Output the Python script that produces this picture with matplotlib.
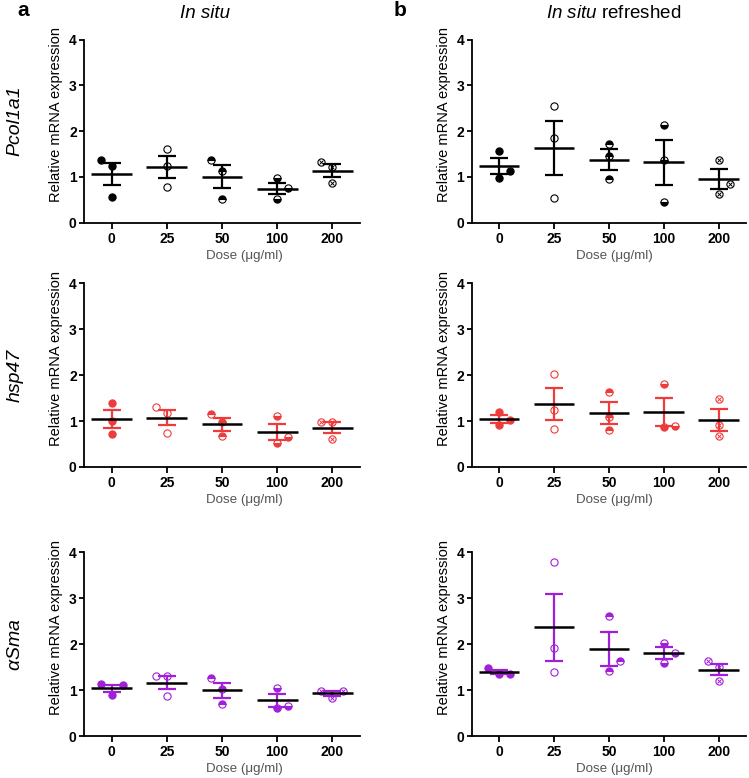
import numpy as np
import matplotlib
matplotlib.use("Agg")
import matplotlib.pyplot as plt

plt.rcParams['font.family'] = ['Liberation Sans', 'DejaVu Sans']
plt.rcParams['mathtext.fontset'] = 'custom'
plt.rcParams['mathtext.it'] = 'Liberation Sans:italic'
plt.rcParams['mathtext.rm'] = 'Liberation Sans'

doses = ['0', '25', '50', '100', '200']

# three replicates per dose
pcol_insitu = [[0.57, 1.24, 1.38], [0.77, 1.25, 1.62], [0.52, 1.13, 1.37], [0.52, 0.75, 0.97], [0.86, 1.22, 1.32]]
pcol_refresh = [[0.98, 1.14, 1.57], [0.53, 1.86, 2.54], [0.95, 1.46, 1.73], [0.45, 1.36, 2.14], [0.63, 0.85, 1.38]]
hsp_insitu = [[0.72, 1.00, 1.39], [0.75, 1.17, 1.30], [0.67, 0.97, 1.16], [0.53, 0.65, 1.12], [0.61, 0.97, 0.97]]
hsp_refresh = [[0.92, 1.02, 1.20], [0.82, 1.25, 2.03], [0.81, 1.08, 1.64], [0.88, 0.90, 1.80], [0.67, 0.92, 1.49]]
sma_insitu = [[0.89, 1.10, 1.13], [0.87, 1.31, 1.31], [0.70, 1.02, 1.26], [0.62, 0.66, 1.05], [0.83, 0.98, 0.98]]
sma_refresh = [[1.34, 1.36, 1.49], [1.39, 1.92, 3.78], [1.42, 1.64, 2.61], [1.58, 1.81, 2.02], [1.20, 1.51, 1.63]]

genes = ['Pcol1a1', 'hsp47', r'$\alpha$Sma']
colors = ['black', '#ee3b3b', '#a11fd8']
panels = [[pcol_insitu, pcol_refresh], [hsp_insitu, hsp_refresh], [sma_insitu, sma_refresh]]

W, H = 749, 778
fig = plt.figure(figsize=(W / 100, H / 100), dpi=100)

# axes boxes in pixels
col_x = [(84, 360), (471.7, 746)]
row_y = [(39.7, 222.7), (283.3, 467), (552.3, 736)]


def swarm(vals, gap=0.245):
    # simple column scatter: move a point sideways when it sits too close to another
    order = np.argsort(vals, kind='stable')
    off = np.zeros(len(vals))
    placed = []
    for i, k in enumerate(order):
        cands = [0, 1, -1] if i % 2 else [0, -1, 1]
        for c in cands:
            if all(abs(vals[k] - v) >= gap for v, s in placed if s == c):
                break
        off[k] = c
        placed.append((vals[k], c))
    return off


def draw_dose(ax, x, ys, kind, color):
    kw = dict(ls='none', ms=5.2, mew=0.8, mec=color, zorder=2, clip_on=False)
    if kind == 0:
        ax.plot(x, ys, 'o', mfc=color, **kw)
    elif kind == 1:
        ax.plot(x, ys, 'o', mfc='white', **kw)
    elif kind == 2:
        ax.plot(x, ys, 'o', fillstyle='top', mfc=color, mfcalt='white', **kw)
    elif kind == 3:
        ax.plot(x, ys, 'o', fillstyle='bottom', mfc=color, mfcalt='white', **kw)
    else:
        ax.plot(x, ys, 'o', mfc='white', **kw)
        ax.plot(x, ys, 'x', ms=3.4, mew=0.7, mec=color, ls='none', zorder=2, clip_on=False)


for r in range(3):
    for c in range(2):
        l, rr = col_x[c]
        t, b = row_y[r]
        ax = fig.add_axes([l / W, 1 - b / H, (rr - l) / W, (b - t) / H])
        data = panels[r][c]
        col = colors[r]
        for i, vals in enumerate(data):
            vals = np.array(vals)
            off = swarm(vals)
            draw_dose(ax, i + off * 0.2, vals, i, col)
            m = vals.mean()
            sem = vals.std(ddof=1) / np.sqrt(len(vals))
            ax.errorbar(i, m, yerr=sem, color=col, lw=1.6, capsize=6.8, capthick=1.6, zorder=3)
            ax.hlines(m, i - 0.37, i + 0.37, color='black', lw=1.8, zorder=4)

        ax.set_xlim(-0.5, 4.5)
        ax.set_ylim(0, 4)
        ax.set_xticks(range(5))
        ax.set_xticklabels(doses, fontsize=10, fontweight='bold')
        ax.set_yticks([0, 1, 2, 3, 4])
        ax.set_yticklabels(['0', '1', '2', '3', '4'], fontsize=10, fontweight='bold')
        for s in ['top', 'right']:
            ax.spines[s].set_visible(False)
        for s in ['left', 'bottom']:
            ax.spines[s].set_linewidth(1.3)
        ax.tick_params(axis='y', length=3.8, width=1.3, pad=1.5)
        ax.tick_params(axis='x', length=4, width=1.3, pad=2.6)

        ax.set_ylabel('Relative mRNA expression', fontsize=10.5)
        ax.yaxis.set_label_coords(-0.10, 0.59)
        ax.yaxis.label.set_va('center')
        ax.set_xlabel('Dose (\u03bcg/ml)', fontsize=9.6, color='#555555')
        ax.xaxis.set_label_coords(0.58 if c == 0 else 0.52, -0.18)
        ax.xaxis.label.set_va('center')

# gene names at left
for r, g in enumerate(genes):
    fig.text(15 / W, 1 - [121, 375, 645][r] / H, g, rotation=90, style='italic',
             fontsize=14, ha='center', va='center')

fig.text(205 / W, 1 - 13 / H, 'In situ', style='italic', fontsize=13.5, ha='center', va='center')
fig.text(614 / W, 1 - 13 / H, r'$\mathit{In\ situ}$ refreshed', fontsize=13.5, ha='center', va='center')
fig.text(23 / W, 1 - 11 / H, 'a', fontsize=15, fontweight='bold', ha='center', va='center')
fig.text(400 / W, 1 - 11 / H, 'b', fontsize=15, fontweight='bold', ha='center', va='center')

fig.savefig('out.png', dpi=100)
